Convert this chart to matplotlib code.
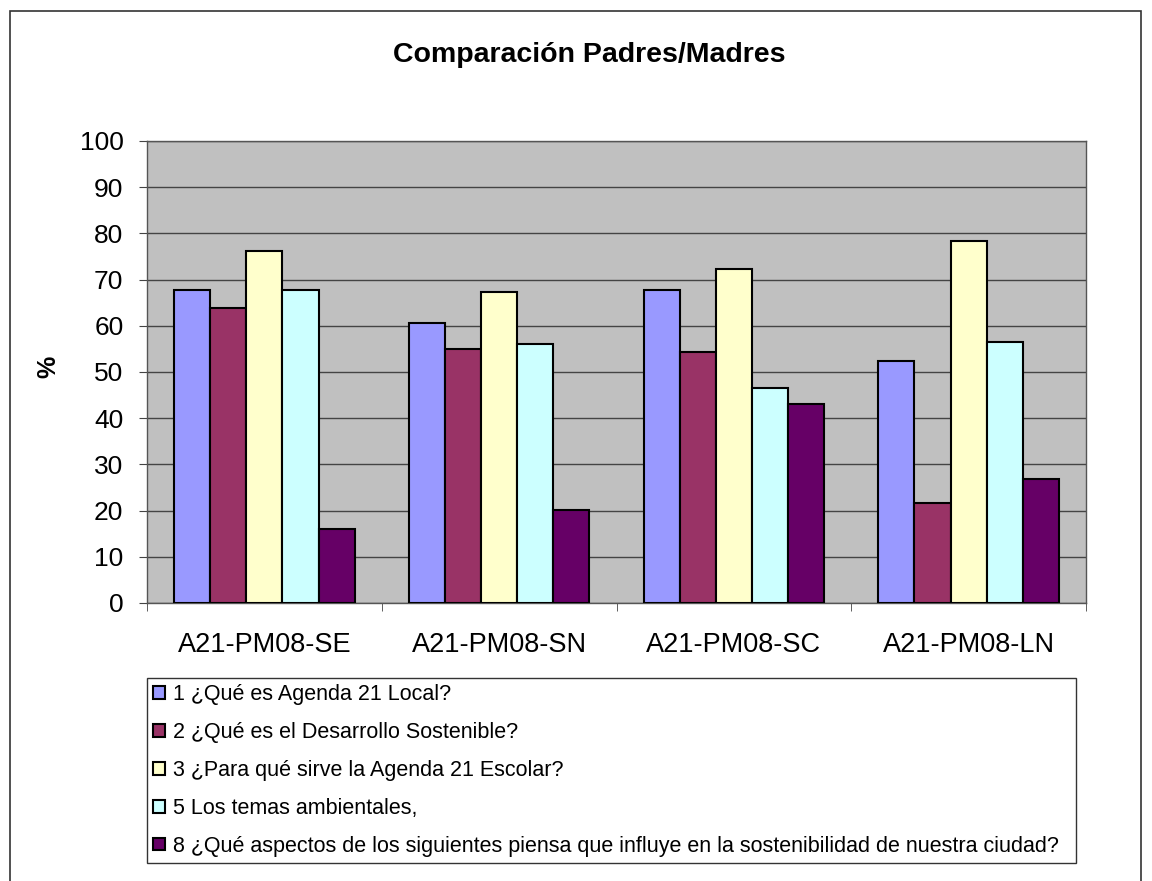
import matplotlib
matplotlib.use("agg")
import matplotlib.pyplot as plt
import numpy as np
from matplotlib.patches import Rectangle

plt.rcParams["font.family"] = ["Liberation Sans", "DejaVu Sans"]

grupos = ["A21-PM08-SE", "A21-PM08-SN", "A21-PM08-SC", "A21-PM08-LN"]
series = [
    "1 ¿Qué es Agenda 21 Local?",
    "2 ¿Qué es el Desarrollo Sostenible?",
    "3 ¿Para qué sirve la Agenda 21 Escolar?",
    "5 Los temas ambientales,",
    "8 ¿Qué aspectos de los siguientes piensa que influye en la sostenibilidad de nuestra ciudad?",
]
p1 = [67.8, 60.5, 67.8, 52.3]
p2 = [63.9, 55.0, 54.4, 21.7]
p3 = [76.1, 67.4, 72.2, 78.3]
p5 = [67.8, 56.1, 46.6, 56.6]
p8 = [16.1, 20.2, 43.1, 26.9]
valores = [p1, p2, p3, p5, p8]
colores = ["#9999FF", "#993366", "#FFFFCC", "#CCFFFF", "#660066"]

W, H = 1152, 881
fig = plt.figure(figsize=(W / 100, H / 100), dpi=100)
ax = fig.add_axes([147 / W, 1 - 603 / H, (1086 - 147) / W, (603 - 141) / H])
ax.set_facecolor("#C0C0C0")

# marco exterior del gráfico
fig.patches.append(Rectangle((10 / W, -0.01), (1141 - 10) / W, 1 - 11 / H + 0.01,
                             transform=fig.transFigure, fill=False,
                             edgecolor="#333333", linewidth=1.2))

x = np.arange(len(grupos))
w = 1 / 6.5
for i, (vals, col, lab) in enumerate(zip(valores, colores, series)):
    ax.bar(x + (i - 2) * w, vals, width=w, color=col, edgecolor="black",
           linewidth=1.5, label=lab, zorder=3)

ax.set_xlim(-0.5, len(grupos) - 0.5)
ax.set_ylim(0, 100)
ax.set_yticks(range(0, 101, 10))
ax.yaxis.grid(True, color="#444444", linewidth=1.0, zorder=1)
ax.set_axisbelow(True)
ax.set_xticks(x)
ax.set_xticklabels(grupos, fontsize=19.5)
ax.tick_params(axis="x", length=0, pad=21)
ax.set_xticks(np.arange(-0.5, len(grupos), 1), minor=True)
ax.tick_params(axis="x", which="minor", length=6, direction="out", color="#444444")
ax.tick_params(axis="y", labelsize=19, length=6, direction="out", color="#444444", pad=11)
for s in ax.spines.values():
    s.set_color("#555555")
    s.set_linewidth(1.0)

fig.text(48 / W, 1 - 367 / H, "%", rotation=90, ha="center", va="center",
         fontsize=18, fontweight="bold")
fig.text(589 / W, 1 - 55 / H, "Comparación Padres/Madres", ha="center", va="center",
         fontsize=20.5, fontweight="bold")

leg = fig.legend(loc="upper left",
                 bbox_to_anchor=(147 / W, 1 - 858 / H, (1076 - 147) / W, (858 - 678) / H),
                 mode="expand", fontsize=15.5, frameon=True, fancybox=False, framealpha=1,
                 handlelength=0.55, handleheight=0.55, handletextpad=0.35,
                 labelspacing=0.78, borderpad=0.3, borderaxespad=0)
leg.get_frame().set_edgecolor("#333333")
leg.get_frame().set_linewidth(1.0)
for h in leg.legend_handles:
    h.set_linewidth(1.5)

fig.savefig("out.png", dpi=100)
